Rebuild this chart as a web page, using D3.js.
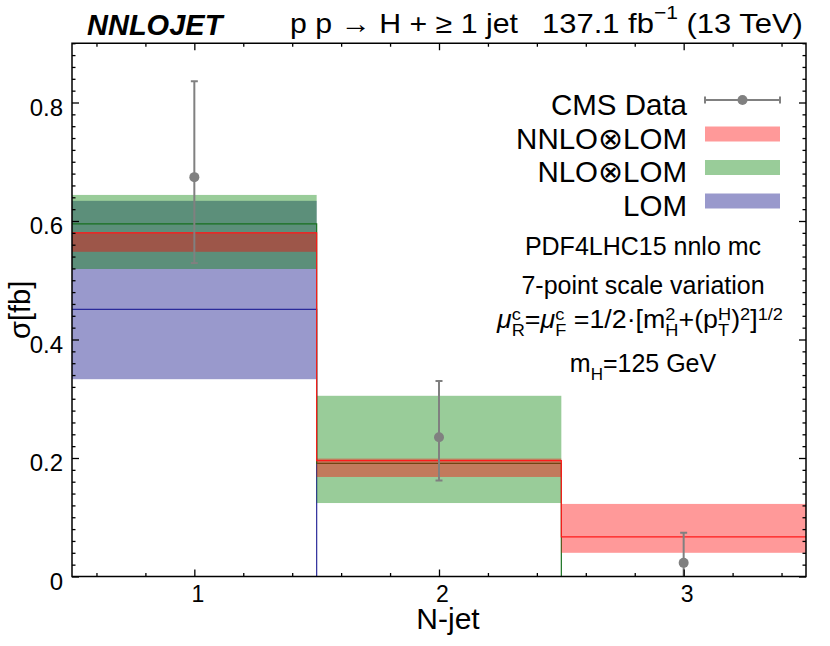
<!DOCTYPE html>
<html>
<head>
<meta charset="utf-8">
<script src="https://cdn.jsdelivr.net/npm/d3@7"></script>
<style>
  html, body { margin: 0; padding: 0; background: #fff; }
  svg { display: block; font-family: "Liberation Sans", Arial, Helvetica, sans-serif; }
  text { white-space: pre; }
</style>
</head>
<body>
<svg id="chart" width="830" height="646"></svg>
<script>
// ---------------- data ----------------
const categories = [1, 2, 3];
const tickLabels = ["1", "2", "3"];
const binEdges = [0.5, 1.5, 2.5, 3.5];

const lomCentral  = [0.451, 0, 0];
const lomLow      = [0.333, null, null];
const lomHigh     = [0.634, null, null];

const nloCentral  = [0.595, 0.191, 0];
const nloLow      = [0.519, 0.124, null];
const nloHigh     = [0.644, 0.305, null];

const nnloCentral = [0.580, 0.1955, 0.067];
const nnloLow     = [0.548, 0.168, 0.040];
const nnloHigh    = [0.581, 0.199, 0.1225];

const cmsValue = [0.674, 0.235, 0.023];
const cmsUp    = [0.836, 0.330, 0.074];
const cmsDown  = [0.529, 0.162, -0.028];

const yMajorTicks = [0, 0.2, 0.4, 0.6, 0.8];
const legendLabels = ["CMS Data", "NNLO\u2297LOM", "NLO\u2297LOM", "LOM"];

// ---------------- setup ----------------
const svg = d3.select("#chart");
const m = { left: 72, right: 806, top: 43.25, bottom: 576.5 };

const x = d3.scaleLinear().domain([0.5, 3.5]).range([m.left, m.right]);
const y = d3.scaleLinear().domain([0, 0.9]).range([m.bottom, m.top]);

svg.append("defs").append("clipPath").attr("id", "plotclip")
  .append("rect").attr("x", m.left).attr("y", m.top)
  .attr("width", m.right - m.left).attr("height", m.bottom - m.top);

const plot = svg.append("g").attr("clip-path", "url(#plotclip)");

const series = [
  { name: "LOM",  c: lomCentral,  lo: lomLow,  hi: lomHigh,  band: "#000080", line: "#2a2a9a" },
  { name: "NLO",  c: nloCentral,  lo: nloLow,  hi: nloHigh,  band: "#008000", line: "#17701f" },
  { name: "NNLO", c: nnloCentral, lo: nnloLow, hi: nnloHigh, band: "#ff0000", line: "#ff1a1a" }
];

const stepLine = d3.line().curve(d3.curveStepAfter).x(d => x(d[0])).y(d => y(d[1]));

series.forEach(s => {
  const bins = categories.map((c, i) => ({ i, lo: s.lo[i], hi: s.hi[i] })).filter(d => d.lo !== null);
  plot.append("g").selectAll("rect").data(bins).join("rect")
    .attr("x", d => x(binEdges[d.i]))
    .attr("width", d => x(binEdges[d.i + 1]) - x(binEdges[d.i]))
    .attr("y", d => y(d.hi))
    .attr("height", d => y(d.lo) - y(d.hi))
    .attr("fill", s.band).attr("fill-opacity", 0.4);
  const pts = s.c.map((v, i) => [binEdges[i], v]);
  pts.push([binEdges[binEdges.length - 1], s.c[s.c.length - 1]]);
  plot.append("path").attr("d", stepLine(pts))
    .attr("fill", "none").attr("stroke", s.line).attr("stroke-width", 1.2);
});

// CMS data points
const dataG = plot.append("g");
const capW = 3.5;
categories.forEach((c, i) => {
  const cx = x(c);
  dataG.append("line").attr("x1", cx).attr("x2", cx)
    .attr("y1", y(cmsDown[i])).attr("y2", y(cmsUp[i]))
    .attr("stroke", "#808080").attr("stroke-width", 2);
  [cmsDown[i], cmsUp[i]].forEach(v => {
    dataG.append("line").attr("x1", cx - capW).attr("x2", cx + capW)
      .attr("y1", y(v)).attr("y2", y(v))
      .attr("stroke", "#808080").attr("stroke-width", 2);
  });
  dataG.append("circle").attr("cx", cx).attr("cy", y(cmsValue[i])).attr("r", 5)
    .attr("fill", "#808080");
});

// ---------------- axes ----------------
const yMinor = d3.range(0, 0.9001, 0.02).map(v => +v.toFixed(2)).filter(v => !yMajorTicks.some(t => Math.abs(t - v) < 1e-9));
const xMinor = d3.range(0.6, 3.4001, 0.2).map(v => +v.toFixed(1)).filter(v => !categories.includes(v));
const fmtY = v => v === 0 ? "0" : d3.format(".1f")(v);

function styleAxis(g) {
  g.select(".domain").remove();
  g.selectAll("line").attr("stroke", "#000").attr("stroke-width", 1.3);
  g.attr("font-family", null).attr("font-size", null);
}

// left
const gl = svg.append("g").attr("transform", `translate(${m.left},0)`)
  .call(d3.axisLeft(y).tickValues(yMajorTicks).tickSize(-7).tickPadding(9).tickFormat(fmtY));
styleAxis(gl);
gl.selectAll("text").attr("dy", "12.5px").style("font-size", "24px").attr("fill", "#000");
svg.append("g").attr("transform", `translate(${m.left},0)`)
  .call(d3.axisLeft(y).tickValues(yMinor).tickSize(-3.5).tickFormat(""))
  .call(styleAxis);
// right
svg.append("g").attr("transform", `translate(${m.right},0)`)
  .call(d3.axisRight(y).tickValues(yMajorTicks).tickSize(-7).tickFormat(""))
  .call(styleAxis);
svg.append("g").attr("transform", `translate(${m.right},0)`)
  .call(d3.axisRight(y).tickValues(yMinor).tickSize(-3.5).tickFormat(""))
  .call(styleAxis);
// bottom
const gb = svg.append("g").attr("transform", `translate(0,${m.bottom})`)
  .call(d3.axisBottom(x).tickValues(categories).tickSize(-7).tickPadding(9).tickFormat((d, i) => tickLabels[i]));
styleAxis(gb);
gb.selectAll("text").attr("dx", "3px").style("font-size", "23px").attr("fill", "#000");
svg.append("g").attr("transform", `translate(0,${m.bottom})`)
  .call(d3.axisBottom(x).tickValues(xMinor).tickSize(-3.5).tickFormat(""))
  .call(styleAxis);
// top
svg.append("g").attr("transform", `translate(0,${m.top})`)
  .call(d3.axisTop(x).tickValues(categories).tickSize(-7).tickFormat(""))
  .call(styleAxis);
svg.append("g").attr("transform", `translate(0,${m.top})`)
  .call(d3.axisTop(x).tickValues(xMinor).tickSize(-3.5).tickFormat(""))
  .call(styleAxis);

// frame
svg.append("rect").attr("x", m.left).attr("y", m.top)
  .attr("width", m.right - m.left).attr("height", m.bottom - m.top)
  .attr("fill", "none").attr("stroke", "#000").attr("stroke-width", 1.5);

// axis titles
svg.append("text").attr("transform", `translate(30,${(m.top + m.bottom) / 2}) rotate(-90)`)
  .attr("text-anchor", "middle").style("font-size", "29px").text("\u03c3[fb]");
svg.append("text").attr("x", 448).attr("y", 629).attr("text-anchor", "middle")
  .style("font-size", "30px").text("N-jet");

// ---------------- rich text helper ----------------
function rich(parts, px, py, size, anchor, targetW) {
  const g = svg.append("g");
  const inner = g.append("g");
  let cx = 0, lastW = 0;
  parts.forEach(p => {
    const small = p.k === "sup" || p.k === "sub";
    const fs = small ? size * 0.68 : size;
    let dy = p.k === "sup" ? -size * 0.34 : p.k === "sub" ? size * 0.3 : 0;
    if (p.dy !== undefined) dy = p.dy;
    const sx = p.stack ? cx - lastW : cx;
    const t = inner.append("text").attr("x", sx).attr("y", dy)
      .style("font-size", fs + "px").text(p.t);
    if (p.it) t.style("font-style", "italic");
    const w = t.node().getComputedTextLength();
    cx = p.stack ? Math.max(cx, sx + w) : sx + w;
    lastW = w;
  });
  const sc = targetW ? targetW / cx : 1;
  const total = cx * sc;
  const shift = anchor === "middle" ? -total / 2 : anchor === "end" ? -total : 0;
  g.attr("transform", `translate(${px + shift},${py})`);
  inner.attr("transform", `scale(${sc},1)`);
  return g;
}

// ---------------- header ----------------
svg.append("text").attr("x", 87).attr("y", 35)
  .style("font-size", "29px").style("font-weight", "bold").style("font-style", "italic")
  .text("NNLOJET");
rich([{ t: "p p \u2192 H + \u2265 1 jet", k: "base" }], 290, 32.5, 27.5, "start", 228);
rich([
  { t: "137.1 fb", k: "base" },
  { t: "\u22121", k: "sup", dy: -14 },
  { t: "\u00a0(13 TeV)", k: "base" }
], 803, 32.5, 27.5, "end", 261);

// ---------------- legend ----------------
const legRows = [100, 134, 167.5, 201];
const legX0 = 705, legX1 = 780, legTextX = 687;
legendLabels.forEach((lab, i) => {
  svg.append("text").attr("x", legTextX).attr("y", legRows[i] + 14.5)
    .attr("text-anchor", "end").style("font-size", "29.5px").text(lab);
});
// CMS symbol
const ly = legRows[0];
svg.append("line").attr("x1", legX0).attr("x2", legX1).attr("y1", ly).attr("y2", ly)
  .attr("stroke", "#808080").attr("stroke-width", 2);
[legX0, legX1].forEach(xx => svg.append("line").attr("x1", xx).attr("x2", xx)
  .attr("y1", ly - 3.5).attr("y2", ly + 3.5).attr("stroke", "#808080").attr("stroke-width", 2));
svg.append("circle").attr("cx", (legX0 + legX1) / 2).attr("cy", ly).attr("r", 5).attr("fill", "#808080");
// band symbols (NNLO, NLO, LOM)
[series[2], series[1], series[0]].forEach((s, j) => {
  svg.append("rect").attr("x", legX0).attr("y", legRows[j + 1] - 7.5)
    .attr("width", legX1 - legX0).attr("height", 15)
    .attr("fill", s.band).attr("fill-opacity", 0.4);
});

// info text
const infoX = 643;
rich([{ t: "PDF4LHC15 nnlo mc", k: "base" }], infoX, 255, 25, "middle");
rich([{ t: "7-point scale variation", k: "base" }], infoX, 294, 25, "middle");
rich([
  { t: "\u03bc", k: "base", it: true },
  { t: "c", k: "sup" }, { t: "R", k: "sub", stack: true },
  { t: "=", k: "base" },
  { t: "\u03bc", k: "base", it: true },
  { t: "c", k: "sup" }, { t: "F", k: "sub", stack: true },
  { t: "\u00a0=1/2\u00b7[m", k: "base" },
  { t: "2", k: "sup" }, { t: "H", k: "sub", stack: true },
  { t: "+(p", k: "base" },
  { t: "H", k: "sup" }, { t: "T", k: "sub", stack: true },
  { t: ")", k: "base" },
  { t: "2", k: "sup" },
  { t: "]", k: "base" },
  { t: "1/2", k: "sup" }
], 640, 328, 25, "middle", 286);
rich([
  { t: "m", k: "base" }, { t: "H", k: "sub" }, { t: "=125 GeV", k: "base" }
], infoX, 372, 25, "middle");
</script>
</body>
</html>
